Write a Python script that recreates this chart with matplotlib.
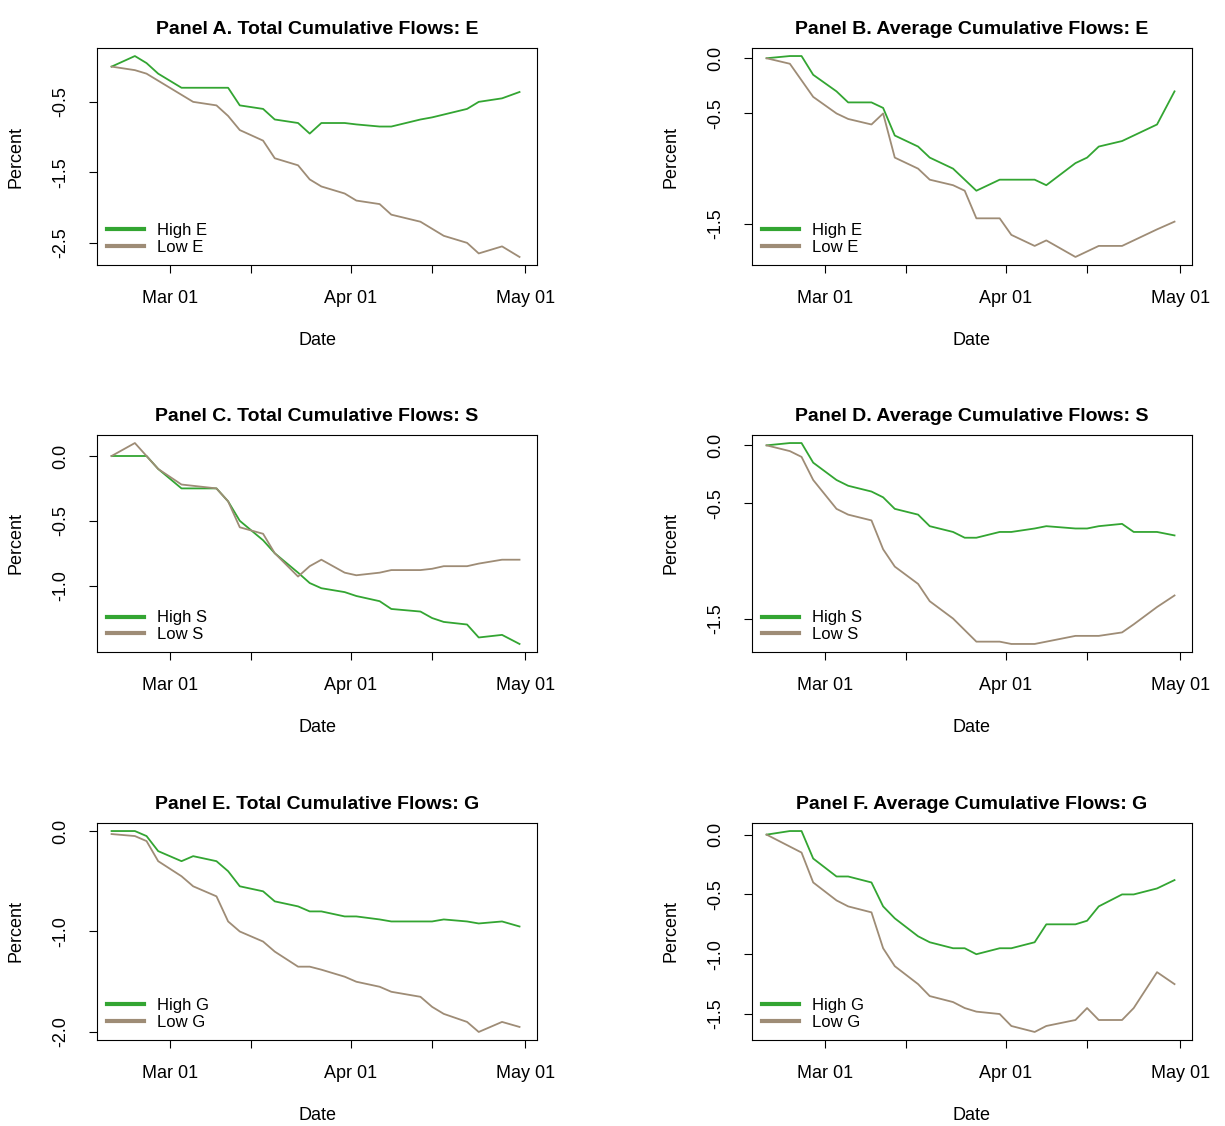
import matplotlib
matplotlib.use("Agg")
import matplotlib.pyplot as plt
import datetime as dt

plt.rcParams['font.family'] = ['Liberation Sans', 'DejaVu Sans']

dates = ["2020-02-20","2020-02-24","2020-02-26","2020-02-28","2020-03-03","2020-03-05","2020-03-09",
         "2020-03-11","2020-03-13","2020-03-17","2020-03-19","2020-03-23","2020-03-25","2020-03-27",
         "2020-03-31","2020-04-02","2020-04-06","2020-04-08","2020-04-13","2020-04-15","2020-04-17",
         "2020-04-21","2020-04-23","2020-04-27","2020-04-30"]

a_high = [0,0.15,0.05,-0.1,-0.3,-0.3,-0.3,-0.3,-0.55,-0.6,-0.75,-0.8,-0.95,-0.8,-0.8,-0.82,-0.85,-0.85,-0.75,-0.72,-0.68,-0.6,-0.5,-0.45,-0.36]
a_low = [0,-0.05,-0.1,-0.2,-0.4,-0.5,-0.55,-0.7,-0.9,-1.05,-1.3,-1.4,-1.6,-1.7,-1.8,-1.9,-1.95,-2.1,-2.2,-2.3,-2.4,-2.5,-2.65,-2.55,-2.7]
b_high = [0,0.02,0.02,-0.15,-0.3,-0.4,-0.4,-0.45,-0.7,-0.8,-0.9,-1.0,-1.1,-1.2,-1.1,-1.1,-1.1,-1.15,-0.95,-0.9,-0.8,-0.75,-0.7,-0.6,-0.3]
b_low = [0,-0.05,-0.2,-0.35,-0.5,-0.55,-0.6,-0.5,-0.9,-1.0,-1.1,-1.15,-1.2,-1.45,-1.45,-1.6,-1.7,-1.65,-1.8,-1.75,-1.7,-1.7,-1.65,-1.55,-1.48]
c_high = [0,0,0,-0.1,-0.25,-0.25,-0.25,-0.35,-0.5,-0.65,-0.75,-0.9,-0.98,-1.02,-1.05,-1.08,-1.12,-1.18,-1.2,-1.25,-1.28,-1.3,-1.4,-1.38,-1.45]
c_low = [0,0.1,0.0,-0.1,-0.22,-0.23,-0.25,-0.35,-0.55,-0.6,-0.75,-0.93,-0.85,-0.8,-0.9,-0.92,-0.9,-0.88,-0.88,-0.87,-0.85,-0.85,-0.83,-0.8,-0.8]
d_high = [0,0.02,0.02,-0.15,-0.3,-0.35,-0.4,-0.45,-0.55,-0.6,-0.7,-0.75,-0.8,-0.8,-0.75,-0.75,-0.72,-0.7,-0.72,-0.72,-0.7,-0.68,-0.75,-0.75,-0.78]
d_low = [0,-0.05,-0.1,-0.3,-0.55,-0.6,-0.65,-0.9,-1.05,-1.2,-1.35,-1.5,-1.6,-1.7,-1.7,-1.72,-1.72,-1.7,-1.65,-1.65,-1.65,-1.62,-1.55,-1.4,-1.3]
e_high = [0,0,-0.05,-0.2,-0.3,-0.25,-0.3,-0.4,-0.55,-0.6,-0.7,-0.75,-0.8,-0.8,-0.85,-0.85,-0.88,-0.9,-0.9,-0.9,-0.88,-0.9,-0.92,-0.9,-0.95]
e_low = [-0.03,-0.05,-0.1,-0.3,-0.45,-0.55,-0.65,-0.9,-1.0,-1.1,-1.2,-1.35,-1.35,-1.38,-1.45,-1.5,-1.55,-1.6,-1.65,-1.75,-1.82,-1.9,-2.0,-1.9,-1.95]
f_high = [0,0.03,0.03,-0.2,-0.35,-0.35,-0.4,-0.6,-0.7,-0.85,-0.9,-0.95,-0.95,-1.0,-0.95,-0.95,-0.9,-0.75,-0.75,-0.72,-0.6,-0.5,-0.5,-0.45,-0.38]
f_low = [0,-0.1,-0.15,-0.4,-0.55,-0.6,-0.65,-0.95,-1.1,-1.25,-1.35,-1.4,-1.45,-1.48,-1.5,-1.6,-1.65,-1.6,-1.55,-1.45,-1.55,-1.55,-1.45,-1.15,-1.25]

panels = [
    ("Panel A. Total Cumulative Flows: E", a_high, a_low, "E", [-0.5,-1.5,-2.5]),
    ("Panel B. Average Cumulative Flows: E", b_high, b_low, "E", [0.0,-0.5,-1.5]),
    ("Panel C. Total Cumulative Flows: S", c_high, c_low, "S", [0.0,-0.5,-1.0]),
    ("Panel D. Average Cumulative Flows: S", d_high, d_low, "S", [0.0,-0.5,-1.5]),
    ("Panel E. Total Cumulative Flows: G", e_high, e_low, "G", [0.0,-1.0,-2.0]),
    ("Panel F. Average Cumulative Flows: G", f_high, f_low, "G", [0.0,-0.5,-1.0,-1.5]),
]

GREEN = "#33a532"
BROWN = "#9e8c76"
x = [dt.datetime.strptime(d, "%Y-%m-%d") for d in dates]
W, H = 1225, 1126
fig = plt.figure(figsize=(W/100, H/100), dpi=100)
lefts = [97, 752]; widths = 440
tops = [48, 435, 823]; h = 217
for i, (title, hi, lo, lab, yt) in enumerate(panels):
    r, c = divmod(i, 2)
    ax = fig.add_axes([lefts[c]/W, 1-(tops[r]+h)/H, widths/W, h/H])
    ax.plot(x, hi, color=GREEN, lw=1.3, label=f"High {lab}")
    ax.plot(x, lo, color=BROWN, lw=1.3, label=f"Low {lab}")
    ax.set_xlim(dt.datetime(2020,2,17,12), dt.datetime(2020,5,3))
    allv = hi + lo
    rng = max(allv) - min(allv)
    ax.set_ylim(min(allv) - 0.04*rng, max(allv) + 0.04*rng)
    ax.set_xticks([dt.datetime(2020,3,1), dt.datetime(2020,3,15), dt.datetime(2020,4,1),
                   dt.datetime(2020,4,15), dt.datetime(2020,5,1)])
    ax.set_xticklabels(["Mar 01", "", "Apr 01", "", "May 01"])
    ax.set_yticks(yt)
    ax.set_yticklabels([f"{v:.1f}" for v in yt], rotation=90, va="center")
    ax.tick_params(axis="x", labelsize=13, length=6, pad=12)
    ax.tick_params(axis="y", labelsize=13, length=6, pad=14)
    ax.set_title(title, fontsize=14, fontweight="bold", pad=10)
    ax.set_xlabel("Date", fontsize=13, labelpad=18)
    ax.set_ylabel("Percent", fontsize=13, labelpad=20)
    leg = ax.legend(loc="lower left", frameon=False, fontsize=12, handlelength=2.2,
                    borderaxespad=0.2, labelspacing=0.1)
    for ln in leg.get_lines():
        ln.set_linewidth(3)
fig.savefig("out.png", dpi=100)
